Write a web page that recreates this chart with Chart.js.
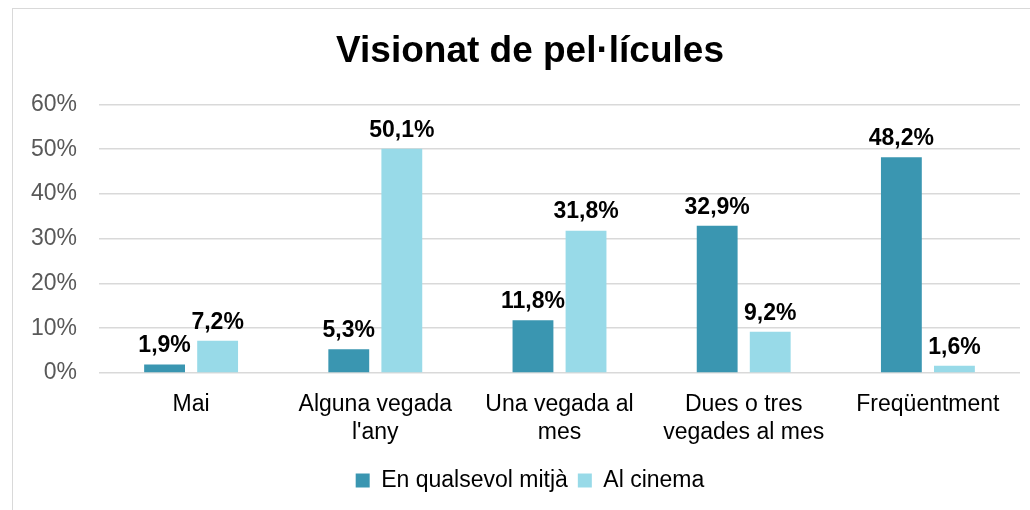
<!DOCTYPE html>
<html>
<head>
<meta charset="utf-8">
<script src="https://cdn.jsdelivr.net/npm/chart.js@4"></script>
<style>
  html, body { margin: 0; padding: 0; background: #fff; overflow: hidden; }
  #wrap { position: relative; width: 1030px; height: 510px; }
  #frame { position: absolute; left: 12px; top: 8px; width: 1100px; height: 600px; border: 1.5px solid #d9d9d9; box-sizing: border-box; }
  canvas { position: absolute; left: 0; top: 0; }
</style>
</head>
<body>
<div id="wrap">
  <div id="frame"></div>
  <canvas id="grafic" width="1030" height="510"></canvas>
</div>
<script>
// dades llegides del gràfic
const categories = [
  'Mai',
  ['Alguna vegada', "l'any"],
  ['Una vegada al', 'mes'],
  ['Dues o tres', 'vegades al mes'],
  'Freqüentment'
];
const qualsevolMitja = [1.9, 5.3, 11.8, 32.9, 48.2];
const alCinema = [7.2, 50.1, 31.8, 9.2, 1.6];
const yTicks = [0, 10, 20, 30, 40, 50, 60];

const FONT = "'Liberation Sans', Arial, sans-serif";

// etiquetes de valor sobre les barres
const valueLabels = {
  id: 'valueLabels',
  afterDatasetsDraw(chart) {
    const ctx = chart.ctx;
    ctx.save();
    ctx.font = 'bold 23px ' + FONT;
    ctx.fillStyle = '#000';
    ctx.textAlign = 'center';
    ctx.textBaseline = 'bottom';
    chart.data.datasets.forEach((ds, i) => {
      chart.getDatasetMeta(i).data.forEach((bar, j) => {
        const txt = ds.data[j].toFixed(1).replace('.', ',') + '%';
        ctx.fillText(txt, bar.x, bar.y - 7);
      });
    });
    ctx.restore();
  }
};

const ctx = document.getElementById('grafic').getContext('2d');
const myChart = new Chart(ctx, {
  type: 'bar',
  data: {
    labels: categories,
    datasets: [{
      label: 'En qualsevol mitjà',
      data: qualsevolMitja,
      backgroundColor: '#3A96B1',
      categoryPercentage: 0.576,
      barPercentage: 0.77,
    }, {
      label: 'Al cinema',
      data: alCinema,
      backgroundColor: '#98DAE8',
      categoryPercentage: 0.576,
      barPercentage: 0.77,
    }],
  },
  options: {
    responsive: false,
    animation: false,
    layout: {
      padding: { left: 30, right: 0, top: 8, bottom: 8 },
    },
    plugins: {
      title: {
        display: true,
        text: 'Visionat de pel·lícules',
        color: '#000',
        font: { family: FONT, size: 37, weight: 'bold' },
        padding: { top: 22, bottom: 30 },
      },
      legend: {
        position: 'bottom',
        labels: {
          color: '#000',
          boxWidth: 14,
          boxHeight: 14,
          padding: 10,
          font: { family: FONT, size: 23 },
        },
      },
      tooltip: { enabled: false },
    },
    scales: {
      x: {
        afterFit: axis => { axis.height = 86; },
        grid: { display: false },
        border: { display: false },
        ticks: {
          color: '#000',
          padding: 10,
          maxRotation: 0,
          font: { family: FONT, size: 23 },
        },
      },
      y: {
        min: 0,
        max: 60,
        afterFit: axis => { axis.width = 69; },
        afterBuildTicks: axis => { axis.ticks = yTicks.map(v => ({ value: v })); },
        grid: { color: '#d9d9d9', lineWidth: 1.5, drawTicks: false },
        border: { display: false },
        ticks: {
          color: '#595959',
          padding: 22,
          font: { family: FONT, size: 23 },
          callback: v => v + '%',
        },
      },
      // eix buit a la dreta, només per deixar marge
      y2: {
        position: 'right',
        afterFit: axis => { axis.width = 10; },
        grid: { display: false },
        border: { display: false },
        ticks: { display: false },
      },
    },
  },
  plugins: [valueLabels],
});
</script>
</body>
</html>
